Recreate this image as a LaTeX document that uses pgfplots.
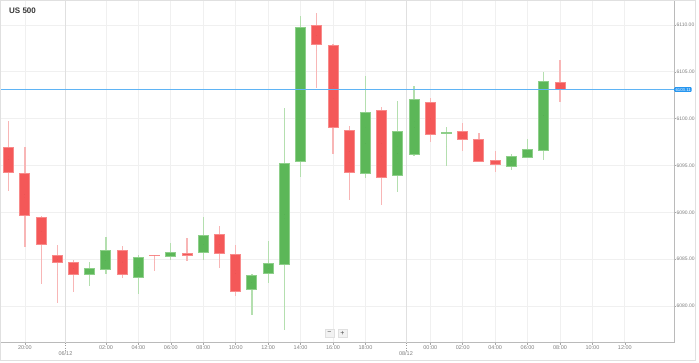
\documentclass[border=0pt]{standalone}
\usepackage{pgfplots}
\pgfplotsset{compat=1.18}
\usepackage{pgfplotstable}
\usepackage{fontspec}
\setmainfont{Liberation Sans}

\definecolor{cred}{RGB}{244,88,88}
\definecolor{credb}{RGB}{248,138,138}
\definecolor{credw}{RGB}{248,182,182}
\definecolor{cgreen}{RGB}{92,183,88}
\definecolor{cgreenb}{RGB}{142,207,138}
\definecolor{cgreenw}{RGB}{180,223,175}
\definecolor{pricecol}{RGB}{95,180,245}
\definecolor{pbox}{RGB}{38,150,240}

% bearish candles: index, open, high, low, close
\pgfplotstableread{
i o h l c
0 6096.97 6099.86 6092.35 6094.31
1 6094.20 6097.08 6086.41 6089.71
2 6089.53 6089.60 6082.35 6086.59
3 6085.58 6086.59 6080.35 6084.80
4 6084.67 6085.09 6081.60 6083.31
7 6085.94 6086.55 6083.20 6083.31
9 6085.44 6085.55 6083.92 6085.31
11 6085.73 6087.33 6084.88 6085.55
13 6087.69 6088.61 6084.13 6085.63
14 6085.66 6086.59 6081.14 6081.60
19 6109.92 6111.31 6103.35 6107.83
20 6107.90 6108.04 6096.37 6099.08
21 6098.93 6099.29 6091.39 6094.31
23 6100.92 6101.28 6090.89 6093.80
26 6101.85 6102.35 6097.65 6098.36
28 6098.68 6099.57 6096.58 6097.86
29 6097.94 6098.58 6095.55 6095.59
30 6095.66 6096.58 6094.31 6095.13
34 6103.95 6106.34 6101.89 6103.11
}\reds

% bullish candles: index, open, high, low, close
\pgfplotstableread{
i o h l c
5 6083.42 6084.77 6082.14 6084.09
6 6083.92 6087.33 6083.38 6086.05
8 6083.20 6085.55 6081.36 6085.34
10 6085.41 6086.83 6085.05 6085.84
12 6085.69 6089.53 6084.88 6087.55
15 6081.71 6083.56 6079.15 6083.31
16 6083.42 6087.05 6082.56 6084.56
17 6084.45 6101.28 6077.50 6095.30
18 6095.45 6111.07 6093.88 6109.82
22 6094.23 6104.55 6093.63 6100.82
24 6093.99 6101.81 6092.10 6098.79
25 6096.26 6103.56 6096.09 6102.10
27 6098.52 6099.08 6094.87 6098.56
31 6094.95 6096.30 6094.59 6096.09
32 6095.94 6097.86 6095.90 6096.79
33 6096.69 6105.12 6095.66 6104.05
}\greens

\pgfplotsset{
  wick/.style={only marks, mark size=0pt, mark options={draw=none, fill=none}, forget plot,
    error bars/.cd, y dir=both, y explicit, error mark=none,
    error bar style={line width=1.2pt, draw=#1}},
  body/.style 2 args={only marks, mark size=0pt, mark options={draw=none, fill=none}, forget plot,
    error bars/.cd, y dir=both, y explicit, error mark=none,
    error bar style={line width=#2, draw=#1}},
}

\begin{document}
\begin{tikzpicture}[x=1pt,y=1pt]
\useasboundingbox (0,-19.5) rectangle (699,342.5);
\fill[white] (0,-19.5) rectangle (699,342.5);
\begin{axis}[
  at={(0,0)}, anchor=south west,
  width=674pt, height=342.5pt, scale only axis,
  xmin=-0.537, xmax=41.03, ymin=6076.1, ymax=6112.67,
  clip=false,
  axis x line*=bottom, axis y line*=right,
  axis line style={draw=black!27, line width=0.8pt, -},
  tick align=outside, major tick length=2pt,
  tick style={draw=black!35, line width=0.6pt},
  grid=major, major grid style={draw=black!6, line width=0.8pt},
  xtick={1,6,8,10,12,14,16,18,20,22,26,28,30,32,34,36,38},
  xticklabels={20:00,02:00,04:00,06:00,08:00,10:00,12:00,14:00,16:00,18:00,00:00,02:00,04:00,06:00,08:00,10:00,12:00},
  extra x ticks={3.5,24.5},
  extra x tick labels={06/12,08/12},
  extra x tick style={major grid style={draw=black!12, line width=0.8pt},
    major tick length=0pt,
    xticklabel style={yshift=-8.5pt}},
  xticklabel style={font=\fontsize{5.5}{6}\selectfont, text=black!50, inner sep=0.8pt},
  ytick={6080,6085,6090,6095,6100,6105,6110},
  scaled y ticks=false,
  yticklabel style={font=\fontsize{5}{6}\selectfont, text=black!50, inner sep=0.4pt,
    /pgf/number format/.cd, fixed, fixed zerofill, precision=2, 1000 sep={}, assume math mode=true},
]
% wicks
\addplot[wick=credw] table[x=i, y expr={(\thisrow{h}+\thisrow{l})/2}, y error expr={(\thisrow{h}-\thisrow{l})/2}] {\reds};
\addplot[wick=cgreenw] table[x=i, y expr={(\thisrow{h}+\thisrow{l})/2}, y error expr={(\thisrow{h}-\thisrow{l})/2}] {\greens};
% bodies (border, then fill)
\addplot[body={credb}{11pt}] table[x=i, y expr={(\thisrow{o}+\thisrow{c})/2}, y error expr={abs(\thisrow{o}-\thisrow{c})/2+0.03}] {\reds};
\addplot[body={cgreenb}{11pt}] table[x=i, y expr={(\thisrow{o}+\thisrow{c})/2}, y error expr={abs(\thisrow{o}-\thisrow{c})/2+0.03}] {\greens};
\addplot[body={cred}{9pt}] table[x=i, y expr={(\thisrow{o}+\thisrow{c})/2}, y error expr={max(abs(\thisrow{o}-\thisrow{c})/2-0.08,0)}] {\reds};
\addplot[body={cgreen}{9pt}] table[x=i, y expr={(\thisrow{o}+\thisrow{c})/2}, y error expr={max(abs(\thisrow{o}-\thisrow{c})/2-0.08,0)}] {\greens};
% current price line (6103.11 across the whole plot)
\addplot[only marks, mark size=0pt, mark options={draw=none, fill=none}, forget plot,
  error bars/.cd, x dir=both, x explicit, error mark=none,
  error bar style={line width=1.2pt, draw=pricecol}]
  coordinates {(20.2465,6103.11) +- (20.7835,0)};
\node[fill=pbox, text=white, rounded corners=1pt, inner xsep=1pt, inner ysep=0.9pt,
  font=\fontsize{4.3}{5}\selectfont, anchor=west] at (axis cs:41.03,6103.11) {\hspace{0.3pt}6103.11};
\end{axis}
% day separators below the axis
\draw[black!40, dotted, line width=0.6pt] (65.46,0) -- (65.46,-8);
\draw[black!40, dotted, line width=0.6pt] (405.98,0) -- (405.98,-8);
% title
\node[anchor=west, font=\bfseries\fontsize{8}{9}\selectfont, text=black!78, inner sep=0pt] at (9,331.3) {US 500};
% zoom buttons
\node[draw=black!12, fill=black!5, minimum width=9pt, minimum height=8pt, inner sep=0pt,
  font=\fontsize{7}{7}\selectfont, text=black!70] at (329.5,9.5) {−};
\node[draw=black!12, fill=black!5, minimum width=9pt, minimum height=8pt, inner sep=0pt,
  font=\fontsize{7}{7}\selectfont, text=black!70] at (342.5,9.5) {+};
% outer frame
\draw[black!12, line width=0.8pt] (0.4,-18.3) rectangle (695.6,342.1);
\end{tikzpicture}
\end{document}
